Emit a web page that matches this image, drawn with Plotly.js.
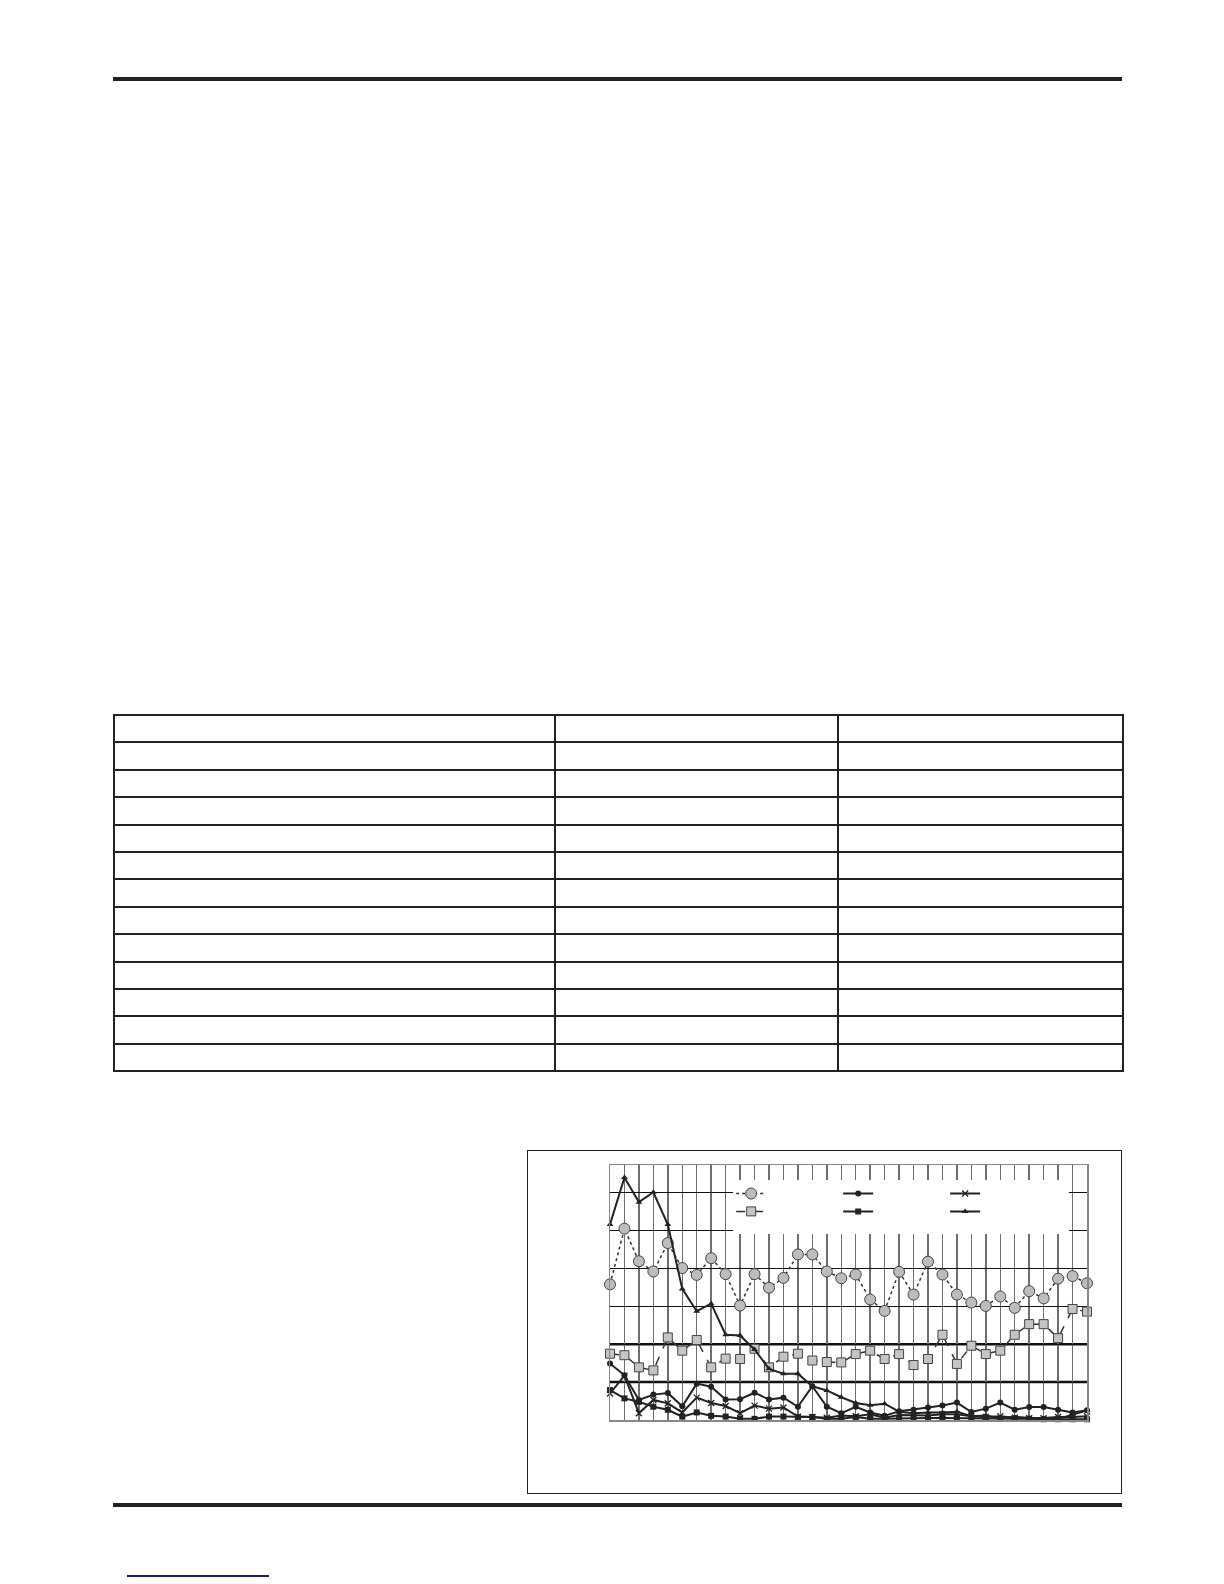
<!DOCTYPE html>
<html>
<head>
<meta charset="utf-8">
<script src="https://cdn.plot.ly/plotly-3.0.1.min.js"></script>
<style>
  body { margin: 0; background: #fff; }
  #page { position: relative; width: 1224px; height: 1584px; }
  .rule { position: absolute; left: 113px; width: 1009px; height: 4px; background: #222; }
  #grid { position: absolute; left: 113px; top: 714px; border-collapse: collapse; table-layout: fixed; }
  #grid td { border: 2px solid #222; height: 25.4px; padding: 0; }
  #box { position: absolute; left: 527px; top: 1150px; width: 595px; height: 344px;
         border: 1.5px solid #222; box-sizing: border-box; }
  #chart { position: absolute; left: 527px; top: 1150px; width: 595px; height: 344px; }
  #link { position: absolute; left: 127px; top: 1575px; width: 142px; height: 1.5px; background: #1c1c7c; }
</style>
</head>
<body>
<div id="page">
  <div class="rule" style="top:77px"></div>
  <table id="grid"></table>
  <div class="rule" style="top:1503px"></div>
  <div id="box"></div>
  <div id="chart"></div>
  <div id="link"></div>
</div>
<script>
// table: 13 rows, 3 columns (cells are blank in the reference)
var tableRows = 13;
var colWidths = [439, 281, 283];

// chart data, 34 points each
var categories = [];
for (var k = 1; k <= 34; k++) categories.push(k);

var greyCircle = [3.58, 5.05, 4.19, 3.92, 4.67, 4.01, 3.83, 4.27, 3.85, 3.02, 3.85, 3.49, 3.75, 4.37, 4.37, 3.92, 3.74,
                  3.84, 3.18, 2.88, 3.91, 3.31, 4.18, 3.84, 3.31, 3.10, 3.01, 3.26, 2.96, 3.40, 3.21, 3.73, 3.80, 3.61];
var greySquare = [1.75, 1.71, 1.39, 1.31, 2.18, 1.83, 2.11, 1.39, 1.62, 1.61, 1.88, 1.39, 1.67, 1.75, 1.57, 1.53, 1.52,
                  1.74, 1.83, 1.61, 1.74, 1.45, 1.61, 2.25, 1.48, 1.96, 1.74, 1.83, 2.25, 2.53, 2.53, 2.16, 2.93, 2.86];
var blackCircle = [1.49, 1.18, 0.53, 0.67, 0.71, 0.36, 0.96, 0.88, 0.54, 0.55, 0.72, 0.54, 0.59, 0.35, 0.89, 0.35, 0.18,
                   0.35, 0.20, 0.11, 0.23, 0.27, 0.33, 0.38, 0.46, 0.21, 0.30, 0.46, 0.27, 0.34, 0.34, 0.27, 0.20, 0.26];
var blackSquare = [0.79, 0.57, 0.48, 0.35, 0.27, 0.09, 0.20, 0.11, 0.09, 0.03, 0.03, 0.09, 0.09, 0.08, 0.08, 0.03, 0.03,
                   0.08, 0.03, 0.03, 0.04, 0.05, 0.05, 0.05, 0.05, 0.05, 0.03, 0.03, 0.04, 0.03, 0.02, 0.02, 0.02, 0.02];
var crossLine = [0.70, 1.17, 0.18, 0.53, 0.44, 0.20, 0.59, 0.45, 0.37, 0.18, 0.38, 0.30, 0.33, 0.09, 0.08, 0.06, 0.12,
                 0.10, 0.15, 0.06, 0.13, 0.12, 0.12, 0.15, 0.15, 0.10, 0.08, 0.10, 0.06, 0.05, 0.05, 0.08, 0.08, 0.10];
var triangleLine = [5.16, 6.40, 5.75, 6.01, 5.16, 3.46, 2.87, 3.07, 2.25, 2.23, 1.86, 1.35, 1.22, 1.22, 0.89, 0.78, 0.60,
                    0.45, 0.39, 0.43, 0.22, 0.18, 0.20, 0.20, 0.22, 0.10, 0.12, 0.05, 0.08, 0.05, 0.03, 0.03, 0.15, 0.25];
var limitLines = [1, 2];

// build the blank table
var tbl = document.getElementById('grid');
var tableWidth = 0;
for (var r = 0; r < tableRows; r++) {
  var tr = tbl.insertRow();
  for (var c = 0; c < colWidths.length; c++) {
    var td = tr.insertCell();
    td.style.width = colWidths[c] + 'px';
  }
}
colWidths.forEach(function (w) { tableWidth += w; });
tbl.style.width = tableWidth + 'px';

var ink = '#222';
var data = [
  { x: categories, y: greyCircle, name: '', type: 'scatter', mode: 'lines+markers', cliponaxis: false,
    line: { color: '#333', width: 1.5, dash: 'dot' },
    marker: { symbol: 'circle', size: 11, color: '#bcbcbc', line: { color: '#444', width: 1 } } },
  { x: categories, y: blackCircle, name: '', type: 'scatter', mode: 'lines+markers', cliponaxis: false,
    line: { color: ink, width: 2 },
    marker: { symbol: 'circle', size: 6, color: ink } },
  { x: categories, y: crossLine, name: '', type: 'scatter', mode: 'lines+markers', cliponaxis: false,
    line: { color: ink, width: 2 },
    marker: { symbol: 'x-thin', size: 6, line: { color: ink, width: 1.3 } } },
  { x: categories, y: greySquare, name: '', type: 'scatter', mode: 'lines+markers', legend: 'legend2', cliponaxis: false,
    line: { color: '#333', width: 1.5, dash: 'dash' },
    marker: { symbol: 'square', size: 9, color: '#c4c4c4', line: { color: '#444', width: 1 } } },
  { x: categories, y: blackSquare, name: '', type: 'scatter', mode: 'lines+markers', legend: 'legend2', cliponaxis: false,
    line: { color: ink, width: 2 },
    marker: { symbol: 'square', size: 6, color: ink } },
  { x: categories, y: triangleLine, name: '', type: 'scatter', mode: 'lines+markers', legend: 'legend2', cliponaxis: false,
    line: { color: ink, width: 2 },
    marker: { symbol: 'triangle-up', size: 6, color: ink } }
];

var shapes = limitLines.map(function (v) {
  return { type: 'line', xref: 'paper', x0: 0, x1: 1, yref: 'y', y0: v, y1: v, layer: 'between',
           line: { color: '#111', width: 2.5 } };
});
// white area behind the legend (no data passes through it)
shapes.push({ type: 'rect', xref: 'paper', yref: 'paper', x0: 0.258, x1: 0.962, y0: 0.729, y1: 0.941,
              layer: 'above', fillcolor: '#fff', line: { width: 0 } });

var legendBase = {
  orientation: 'h', bgcolor: 'rgba(0,0,0,0)', borderwidth: 0,
  font: { family: 'Liberation Sans, Arial, sans-serif', size: 10, color: '#222' },
  entrywidth: 62, itemwidth: 30, xanchor: 'left', yanchor: 'top', x: 0.254
};

var layout = {
  width: 595, height: 344,
  margin: { l: 83, r: 35, t: 15, b: 74 },
  paper_bgcolor: 'rgba(0,0,0,0)', plot_bgcolor: '#fff',
  showlegend: true,
  legend: Object.assign({}, legendBase, { y: 0.945 }),
  legend2: Object.assign({}, legendBase, { y: 0.875 }),
  xaxis: {
    range: [1, 34], tickvals: categories, showticklabels: false, ticks: '',
    showgrid: true, gridcolor: '#6e6e6e', gridwidth: 1.5,
    showline: true, mirror: true, linecolor: '#888', linewidth: 1.5, zeroline: false
  },
  yaxis: {
    range: [0, 6.73], dtick: 1, showticklabels: false, ticks: '',
    showgrid: true, gridcolor: '#111', gridwidth: 1,
    showline: true, mirror: true, linecolor: '#888', linewidth: 1.5, zeroline: false
  },
  shapes: shapes
};

var config = { displayModeBar: false, staticPlot: true };
Plotly.newPlot('chart', data, layout, config);
</script>
</body>
</html>
